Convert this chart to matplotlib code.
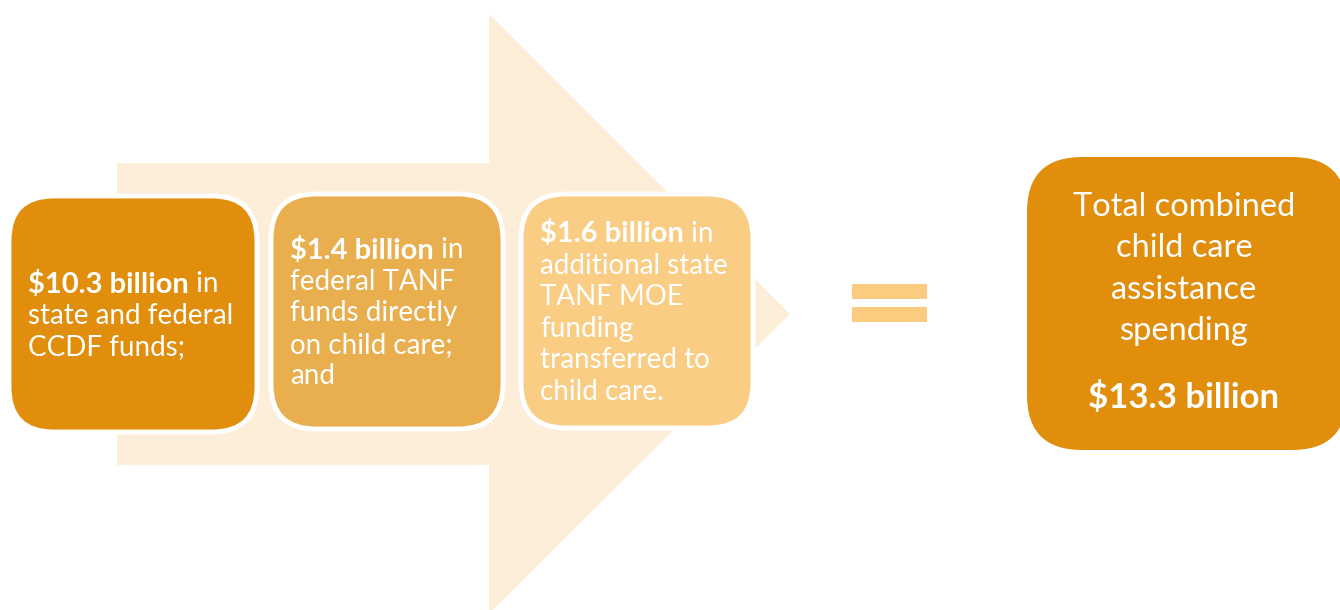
import matplotlib
matplotlib.use("Agg")
import matplotlib.pyplot as plt
from matplotlib.patches import FancyBboxPatch, Polygon, Rectangle

plt.rcParams['font.family'] = ['Lato', 'DejaVu Sans']

# data: three funding sources and the total
amounts = ["$10.3 billion", "$1.4 billion", "$1.6 billion"]
first_tail = [" in", " in", " in"]
rest_lines = [
    ["state and federal", "CCDF funds;"],
    ["federal TANF", "funds directly", "on child care;", "and"],
    ["additional state", "TANF MOE", "funding", "transferred to", "child care."],
]
total_lines = ["Total combined", "child care", "assistance", "spending"]
total_amount = "$13.3 billion"

box_colors = ["#E08E0B", "#E9AE4E", "#FACD85"]
total_color = "#E08E0B"
arrow_color = "#FDEEDA"
eq_color = "#FBCB80"

W, H = 1340, 610
fig = plt.figure(figsize=(W / 100, H / 100), dpi=100)
ax = fig.add_axes([0, 0, 1, 1])
ax.set_xlim(0, W)
ax.set_ylim(H, 0)
ax.axis('off')

# big background arrow
arrow = Polygon([(117, 163), (489, 163), (489, 14), (790, 314),
                 (489, 614), (489, 465), (117, 465)],
                closed=True, facecolor=arrow_color, edgecolor='none')
ax.add_patch(arrow)

# boxes (left, top, right, bottom)
boxes = [(9, 196, 257, 432), (271, 194, 503, 429), (521, 194, 753, 428)]
fs = 20
line_h = 31.5

for i, (x0, y0, x1, y1) in enumerate(boxes):
    p = FancyBboxPatch((x0, y0), x1 - x0, y1 - y0,
                       boxstyle="round,pad=0,rounding_size=45",
                       facecolor=box_colors[i], edgecolor='white', linewidth=3.5)
    ax.add_patch(p)
    n = 1 + len(rest_lines[i])
    cy = (y0 + y1) / 2
    base0 = cy - (n - 1) * line_h / 2 + 10
    tx = x0 + 19
    t = ax.text(tx, base0, amounts[i], color='white', fontsize=21,
                fontweight='bold', va='baseline', ha='left')
    ax.annotate(first_tail[i], xy=(1, 0), xycoords=t, color='white',
                fontsize=fs, va='bottom', ha='left')
    for k, line in enumerate(rest_lines[i]):
        ax.text(tx, base0 + (k + 1) * line_h, line, color='white',
                fontsize=fs, va='baseline', ha='left')

# equals sign
ax.add_patch(Rectangle((852, 284), 75, 15, facecolor=eq_color, edgecolor='none'))
ax.add_patch(Rectangle((852, 307), 75, 15, facecolor=eq_color, edgecolor='none'))

# total box
tb = FancyBboxPatch((1027, 157), 320, 293,
                    boxstyle="round,pad=0,rounding_size=55",
                    facecolor=total_color, edgecolor='none')
ax.add_patch(tb)
tcx = 1184
for k, line in enumerate(total_lines):
    ax.text(tcx, 216 + k * 41.3, line, color='white', fontsize=23.5,
            va='baseline', ha='center')
ax.text(tcx, 408, total_amount, color='white', fontsize=25,
        fontweight='bold', va='baseline', ha='center')

fig.savefig("out.png", dpi=100)
